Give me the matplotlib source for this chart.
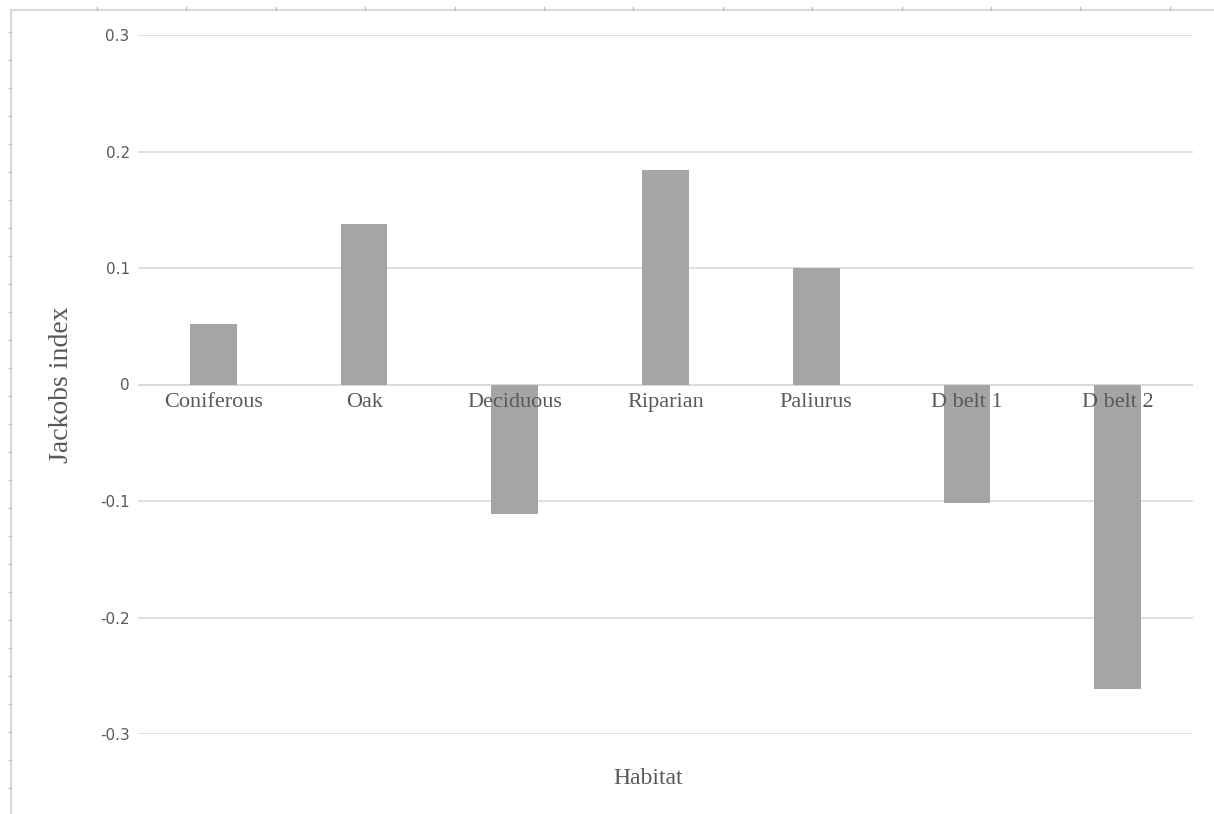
import matplotlib
matplotlib.use("Agg")
import matplotlib.pyplot as plt
from matplotlib.lines import Line2D
from matplotlib.transforms import offset_copy

habitats = ["Coniferous", "Oak", "Deciduous", "Riparian", "Paliurus", "D belt 1", "D belt 2"]
jacobs = [0.052, 0.138, -0.111, 0.184, 0.100, -0.102, -0.261]
y_ticks = [-0.3, -0.2, -0.1, 0, 0.1, 0.2, 0.3]
y_tick_labels = ["-0.3", "-0.2", "-0.1", "0", "0.1", "0.2", "0.3"]

W, H = 1214, 814
fig = plt.figure(figsize=(W / 100, H / 100), dpi=100)

grid_col = "#d9d9d9"
text_col = "#595959"
serif = ["Liberation Serif", "DejaVu Serif"]

# sheet ruler along the top and left edges
fig.add_artist(Line2D([11 / W, 1], [1 - 10 / H] * 2, color=grid_col, lw=1.5))
fig.add_artist(Line2D([11 / W] * 2, [0, 1 - 10 / H], color=grid_col, lw=1.5))
x = 97
while x < W:
    fig.add_artist(Line2D([x / W] * 2, [1 - 7 / H, 1 - 10 / H], color="#bfbfbf", lw=1))
    x += 89.4
y = 32
while y < H:
    fig.add_artist(Line2D([9 / W, 11 / W], [1 - y / H] * 2, color="#bfbfbf", lw=1))
    y += 28

ax = fig.add_axes([138 / W, 1 - 734 / H, (1193 - 138) / W, (734 - 35) / H])
ax.bar(range(len(habitats)), jacobs, width=0.31, color="#a5a5a5", zorder=2)

ax.set_xlim(-0.5, len(habitats) - 0.5)
ax.set_ylim(-0.3, 0.3)
ax.set_yticks(y_ticks)
ax.set_yticklabels(y_tick_labels, fontsize=11, color=text_col)
ax.yaxis.grid(True, color=grid_col, lw=1.2, zorder=0)
ax.set_axisbelow(True)
ax.set_xticks([])
for s in ax.spines.values():
    s.set_visible(False)
ax.tick_params(axis="y", length=0, pad=6)
ax.axhline(0, color=grid_col, lw=1.2, zorder=1)

# category names sit on the zero line, over the bars
below_zero = offset_copy(ax.transData, fig=fig, y=-6, units="points")
for i, name in enumerate(habitats):
    ax.text(i, 0, name, transform=below_zero, ha="center", va="top",
            fontsize=16, color=text_col, family=serif, zorder=5)

fig.text(62 / W, 1 - 385 / H, "Jackobs index", rotation=90, ha="center", va="center",
         fontsize=20, color=text_col, family=serif, fontstretch="condensed")
fig.text(648 / W, 1 - 778 / H, "Habitat", ha="center", va="center",
         fontsize=17, color=text_col, family=serif)

fig.savefig("out.png", dpi=100, facecolor="white")
